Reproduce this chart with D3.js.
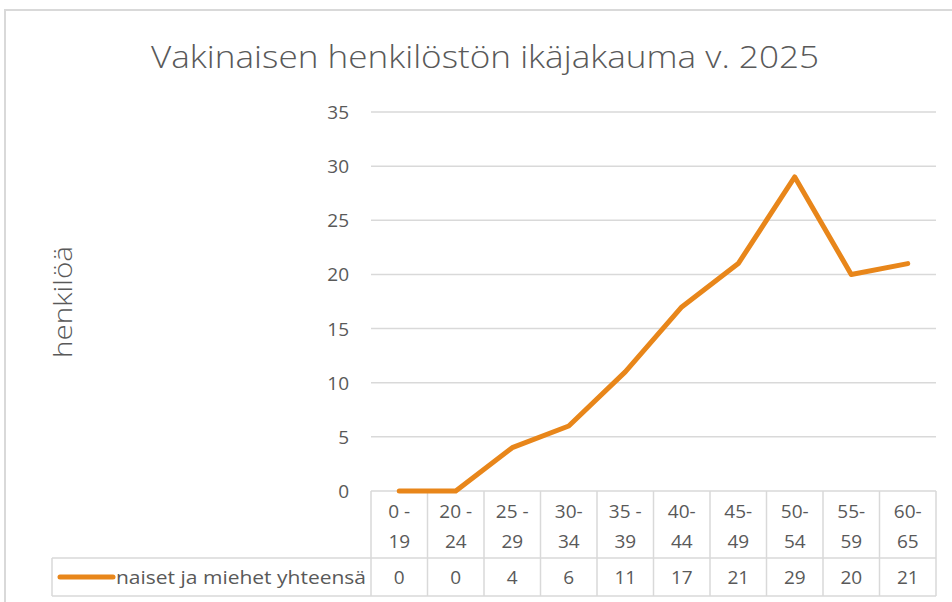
<!DOCTYPE html>
<html>
<head>
<meta charset="utf-8">
<script src="https://cdn.jsdelivr.net/npm/d3@7"></script>
<style>
  body { margin: 0; background: #fff; }
  text { fill: #595959; }
</style>
</head>
<body>
<script>
const width = 952;
const height = 602;

// data
const ageGroups = ["0 - 19", "20 - 24", "25 - 29", "30- 34", "35 - 39", "40- 44", "45- 49", "50- 54", "55- 59", "60- 65"];
const headTop = ["0 -", "20 -", "25 -", "30-", "35 -", "40-", "45-", "50-", "55-", "60-"];
const headBottom = ["19", "24", "29", "34", "39", "44", "49", "54", "59", "65"];
const persons = [0, 0, 4, 6, 11, 17, 21, 29, 20, 21];
const seriesName = "naiset ja miehet yhteensä";
const yTicks = [0, 5, 10, 15, 20, 25, 30, 35];

const svg = d3.select("body").append("svg")
    .attr("width", width)
    .attr("height", height);

// chart border
svg.append("path")
    .attr("d", "M5,602 V10 H952")
    .attr("fill", "none")
    .attr("stroke", "#d9d9d9")
    .attr("stroke-width", 2);

const plotLeft = 371, plotRight = 936, plotTop = 112, plotBottom = 491;

const x = d3.scaleBand()
    .domain(ageGroups)
    .range([plotLeft, plotRight]);

const y = d3.scaleLinear()
    .domain([0, 35])
    .range([plotBottom, plotTop]);

// title
svg.append("text")
    .attr("x", 485)
    .attr("y", 68)
    .attr("text-anchor", "middle")
    .attr("textLength", 668)
    .attr("lengthAdjust", "spacingAndGlyphs")
    .style("font-family", "'Open Sans', sans-serif")
    .style("font-weight", 300)
    .style("font-size", "32px")
    .text("Vakinaisen henkilöstön ikäjakauma v. 2025");

// gridlines
svg.append("g").selectAll("line")
    .data(yTicks.filter(d => d > 0))
    .enter().append("line")
    .attr("x1", plotLeft).attr("x2", plotRight)
    .attr("y1", d => y(d)).attr("y2", d => y(d))
    .attr("stroke", "#d9d9d9")
    .attr("stroke-width", 1.5);

// y tick labels
svg.append("g").selectAll("text")
    .data(yTicks)
    .enter().append("text")
    .attr("x", 349)
    .attr("y", d => y(d) + 7)
    .attr("text-anchor", "end")
    .style("font-family", "'Open Sans', sans-serif")
    .style("font-size", "19px")
    .text(d => d);

// y axis title
svg.append("text")
    .attr("transform", "translate(72,302) rotate(-90)")
    .attr("text-anchor", "middle")
    .attr("textLength", 112)
    .attr("lengthAdjust", "spacingAndGlyphs")
    .style("font-family", "'Open Sans', sans-serif")
    .style("font-weight", 300)
    .style("font-size", "26px")
    .text("henkilöä");

// data table
const rowDiv = 558, tableBottom = 596;
const grid = svg.append("g")
    .attr("stroke", "#d9d9d9")
    .attr("stroke-width", 1.5)
    .attr("fill", "none");
grid.append("line").attr("x1", plotLeft).attr("x2", plotRight).attr("y1", plotBottom).attr("y2", plotBottom);
grid.append("line").attr("x1", 52).attr("x2", plotRight).attr("y1", rowDiv).attr("y2", rowDiv);
grid.append("line").attr("x1", 52).attr("x2", plotRight).attr("y1", tableBottom).attr("y2", tableBottom);
grid.append("line").attr("x1", 52).attr("x2", 52).attr("y1", rowDiv).attr("y2", tableBottom);
grid.selectAll(".v")
    .data(ageGroups)
    .enter().append("line")
    .attr("x1", d => x(d)).attr("x2", d => x(d))
    .attr("y1", plotBottom).attr("y2", tableBottom);
grid.append("line").attr("x1", plotRight).attr("x2", plotRight).attr("y1", plotBottom).attr("y2", tableBottom);

const cellFont = "'Open Sans', sans-serif";
const cells = svg.append("g")
    .attr("text-anchor", "middle")
    .style("font-family", cellFont)
    .style("font-size", "19px");
cells.selectAll(".t1")
    .data(ageGroups)
    .enter().append("text")
    .attr("x", d => x(d) + x.bandwidth() / 2)
    .attr("y", 518)
    .text((d, i) => headTop[i]);
cells.selectAll(".t2")
    .data(ageGroups)
    .enter().append("text")
    .attr("x", d => x(d) + x.bandwidth() / 2)
    .attr("y", 548)
    .text((d, i) => headBottom[i]);
cells.selectAll(".v")
    .data(ageGroups)
    .enter().append("text")
    .attr("x", d => x(d) + x.bandwidth() / 2)
    .attr("y", 584)
    .text((d, i) => persons[i]);

// legend key inside table
svg.append("line")
    .attr("x1", 60).attr("x2", 113)
    .attr("y1", 577).attr("y2", 577)
    .attr("stroke", "#e8861a")
    .attr("stroke-width", 5)
    .attr("stroke-linecap", "round");
svg.append("text")
    .attr("x", 116)
    .attr("y", 584)
    .attr("textLength", 250)
    .attr("lengthAdjust", "spacingAndGlyphs")
    .style("font-family", cellFont)
    .style("font-size", "19px")
    .text(seriesName);

// line
const line = d3.line()
    .x((d, i) => x(ageGroups[i]) + x.bandwidth() / 2)
    .y(d => y(d));

svg.append("path")
    .datum(persons)
    .attr("d", line)
    .attr("fill", "none")
    .attr("stroke", "#e8861a")
    .attr("stroke-width", 5)
    .attr("stroke-linecap", "round")
    .attr("stroke-linejoin", "round");
</script>
</body>
</html>
